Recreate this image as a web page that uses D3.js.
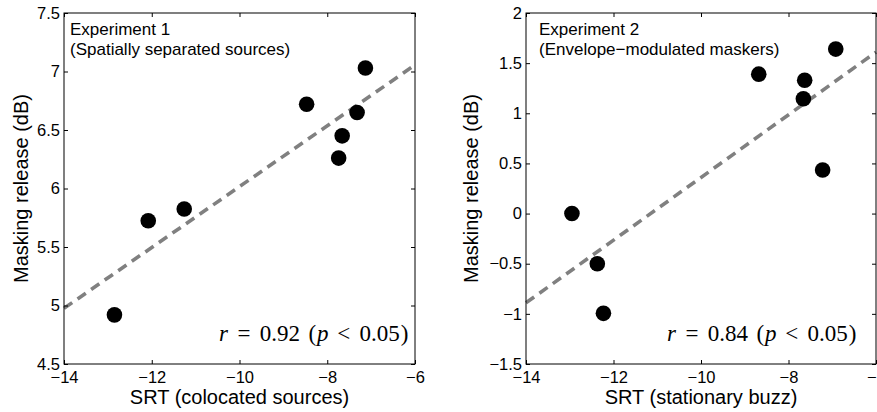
<!DOCTYPE html>
<html><head><meta charset="utf-8">
<script src="https://cdn.jsdelivr.net/npm/d3@7"></script>
<style>
html,body{margin:0;padding:0;background:#fff;}
svg{display:block;}
text{font-family:"Liberation Sans",Arial,Helvetica,sans-serif;fill:#000;}
</style></head>
<body>
<svg id="chart" width="877" height="412"></svg>
<script>
// ---- data ----
const exp1X = [-12.85, -12.08, -11.26, -8.47, -7.74, -7.66, -7.32, -7.13];
const exp1Y = [4.92, 5.725, 5.825, 6.72, 6.26, 6.45, 6.65, 7.03];
const exp2X = [-12.95, -12.37, -12.23, -8.68, -7.63, -7.66, -7.22, -6.92];
const exp2Y = [0.0, -0.50, -0.995, 1.39, 1.33, 1.145, 0.435, 1.64];
const fit1X = [-14, -6];
const fit1Y = [4.976, 7.056];
const fit2X = [-14, -6];
const fit2Y = [-0.89, 1.61];
const xTicks = [-14, -12, -10, -8, -6];
const yTicks1 = [4.5, 5, 5.5, 6, 6.5, 7, 7.5];
const yTicks2 = [-1.5, -1, -0.5, 0, 0.5, 1, 1.5, 2];
const titles1 = ["Experiment 1", "(Spatially separated sources)"];
const titles2 = ["Experiment 2", "(Envelope\u2212modulated maskers)"];
const xLabels = ["SRT (colocated sources)", "SRT (stationary buzz)"];
const yLabel = "Masking release (dB)";
const rValues = ["0.92", "0.84"];
const pText = "0.05";

const svg = d3.select("#chart");
const fmt = d => String(d).replace("-", "\u2212");

const panels = [
  {x: exp1X, y: exp1Y, fx: fit1X, fy: fit1Y, yd: [4.5, 7.5], yt: yTicks1, titles: titles1,
   xl: xLabels[0], r: rValues[0], left: 64, right: 415, titleX: 70, rEnd: 409, ylabX: 21},
  {x: exp2X, y: exp2Y, fx: fit2X, fy: fit2Y, yd: [-1.5, 2], yt: yTicks2, titles: titles2,
   xl: xLabels[1], r: rValues[1], left: 526, right: 876, titleX: 539, rEnd: 857, ylabX: 471}
];
const yTop = 13, yBottom = 364;

panels.forEach(p => {
  const x = d3.scaleLinear().domain([-14, -6]).range([p.left, p.right]);
  const y = d3.scaleLinear().domain(p.yd).range([yBottom, yTop]);
  const g = svg.append("g");

  g.append("line")
    .attr("x1", x(p.fx[0])).attr("y1", y(p.fy[0]))
    .attr("x2", x(p.fx[1])).attr("y2", y(p.fy[1]))
    .attr("stroke", "#808080").attr("stroke-width", 3.6)
    .attr("stroke-dasharray", "10,6.5");

  g.selectAll("circle").data(p.x.map((v, i) => [v, p.y[i]])).enter()
    .append("circle")
    .attr("cx", d => x(d[0])).attr("cy", d => y(d[1])).attr("r", 7.8)
    .attr("fill", "#000");

  const ax = (axis, tr) => {
    const a = g.append("g").attr("transform", tr).call(axis);
    a.select(".domain").remove();
    a.selectAll(".tick line").attr("stroke", "#000");
    a.selectAll("text").style("font-size", "16.5px").attr("fill", "#000");
    return a;
  };
  ax(d3.axisBottom(x).tickValues(xTicks).tickFormat(fmt).tickSizeInner(-4).tickSizeOuter(0).tickPadding(7.5),
     `translate(0,${yBottom})`);
  ax(d3.axisTop(x).tickValues(xTicks).tickFormat("").tickSizeInner(-4).tickSizeOuter(0),
     `translate(0,${yTop})`);
  ax(d3.axisLeft(y).tickValues(p.yt).tickFormat(fmt).tickSizeInner(-4).tickSizeOuter(0).tickPadding(4),
     `translate(${p.left},0)`);
  ax(d3.axisRight(y).tickValues(p.yt).tickFormat("").tickSizeInner(-4).tickSizeOuter(0),
     `translate(${p.right},0)`);

  g.append("rect").attr("x", p.left).attr("y", yTop)
    .attr("width", p.right - p.left).attr("height", yBottom - yTop)
    .attr("fill", "none").attr("stroke", "#000").attr("stroke-width", 1);

  p.titles.forEach((t, i) => {
    g.append("text").attr("x", p.titleX).attr("y", 35 + i * 20)
      .style("font-size", "17px").text(t);
  });

  // r annotation laid out like TeX math (token boxes in em)
  const fs = 23;
  const tokens = [
    {t: "r", w: 0.451, it: true}, {gap: 0.278},
    {t: "=", w: 0.778}, {gap: 0.278},
    {t: p.r, w: 1.778}, {gap: 0.333},
    {t: "(", w: 0.389}, {t: "p", w: 0.503, it: true}, {gap: 0.278},
    {t: "<", w: 0.778}, {gap: 0.278},
    {t: pText, w: 1.778}, {t: ")", w: 0.389}
  ];
  const total = d3.sum(tokens, d => d.w || d.gap) * fs;
  let cx = p.rEnd - total;
  const rg = g.append("g");
  tokens.forEach(tk => {
    if (tk.gap) { cx += tk.gap * fs; return; }
    const w = tk.w * fs;
    rg.append("text").attr("x", cx + w / 2).attr("y", 341)
      .attr("text-anchor", "middle")
      .style("font-family", "'Liberation Serif','Times New Roman',serif")
      .style("font-size", fs + "px")
      .style("font-style", tk.it ? "italic" : "normal")
      .text(tk.t);
    cx += w;
  });

  g.append("text").attr("x", (p.left + p.right) / 2).attr("y", 404)
    .attr("text-anchor", "middle").style("font-size", "20px").text(p.xl);
  g.append("text")
    .attr("transform", `translate(${p.ylabX + 7},${(yTop + yBottom) / 2}) rotate(-90)`)
    .attr("text-anchor", "middle").style("font-size", "20px").text(yLabel);
});
</script>
</body></html>
